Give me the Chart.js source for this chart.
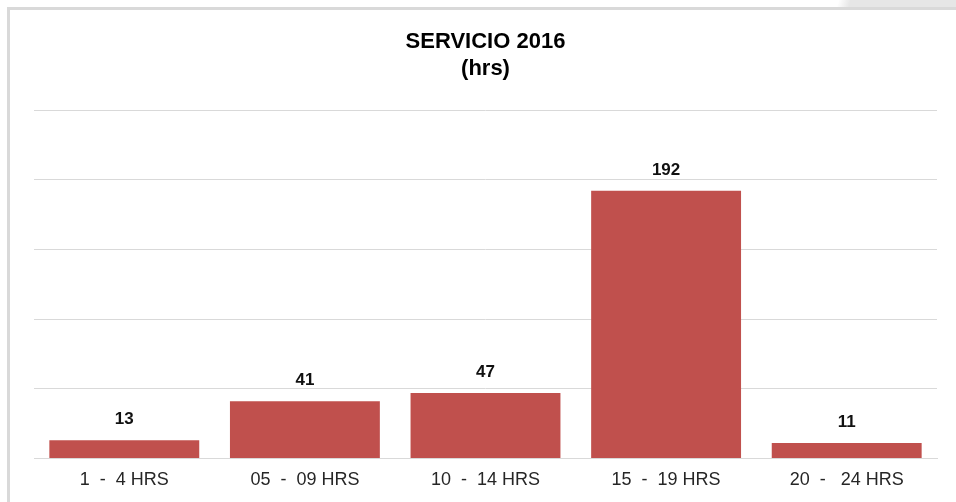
<!DOCTYPE html>
<html>
<head>
<meta charset="utf-8">
<script src="https://cdn.jsdelivr.net/npm/chart.js@4"></script>
<style>
  html, body { margin: 0; padding: 0; background: #fff; }
  #corner { position: absolute; left: 820px; top: 0; width: 136px; height: 8px;
            background: linear-gradient(105deg, #fff 0, #fff 18px, #e6e6e6 30px, #e6e6e6 100%); }
  #frame { position: absolute; left: 7px; top: 7px; width: 1200px; height: 800px;
           border-left: 3px solid #d9d9d9; border-top: 3px solid #d9d9d9; }
  #wrap { position: absolute; left: 0; top: 0; width: 956px; height: 502px; }
</style>
</head>
<body>
<div id="corner"></div>
<div id="frame"></div>
<div id="wrap"><canvas id="c"></canvas></div>
<script>
const categorias = ['1  -  4 HRS', '05  -  09 HRS', '10  -  14 HRS', '15  -  19 HRS', '20  -   24 HRS']
const servicio = [13, 41, 47, 192, 11]
const titulo = ['SERVICIO 2016', '(hrs)']

// etiquetas de valor encima de cada barra
const valores = {
    id: 'valores',
    afterDatasetsDraw(chart) {
        const ctx = chart.ctx
        ctx.save()
        ctx.font = 'bold 17px "Liberation Sans", Arial, sans-serif'
        ctx.fillStyle = '#111'
        ctx.textAlign = 'center'
        ctx.textBaseline = 'middle'
        chart.getDatasetMeta(0).data.forEach((bar, i) => {
            ctx.fillText(servicio[i], bar.x, bar.y - 21)
        })
        ctx.restore()
    }
}

new Chart(document.getElementById('c'), {
    type: 'bar',
    data: {
        labels: categorias,
        datasets: [{
            data: servicio,
            backgroundColor: '#C0504D',
            barPercentage: 0.83,
            categoryPercentage: 1
        }]
    },
    options: {
        responsive: true,
        maintainAspectRatio: false,
        animation: false,
        layout: { padding: { top: 23, left: 34, right: 19, bottom: 0 } },
        plugins: {
            legend: { display: false },
            tooltip: { enabled: false },
            title: {
                display: true,
                text: titulo,
                color: '#000',
                font: { family: '"Liberation Sans", Arial, sans-serif', size: 22, weight: 'bold', lineHeight: 1.25 },
                padding: { top: 5, bottom: 27 }
            }
        },
        scales: {
            x: {
                grid: { display: false, drawTicks: false },
                border: { color: '#d9d9d9' },
                ticks: {
                    color: '#262626',
                    padding: 11,
                    font: { family: '"Liberation Sans", Arial, sans-serif', size: 18 }
                }
            },
            y: {
                min: 0,
                max: 250,
                ticks: { display: false, stepSize: 50 },
                grid: { color: '#d9d9d9', drawTicks: false },
                border: { display: false }
            }
        }
    },
    plugins: [valores]
})
</script>
</body>
</html>
